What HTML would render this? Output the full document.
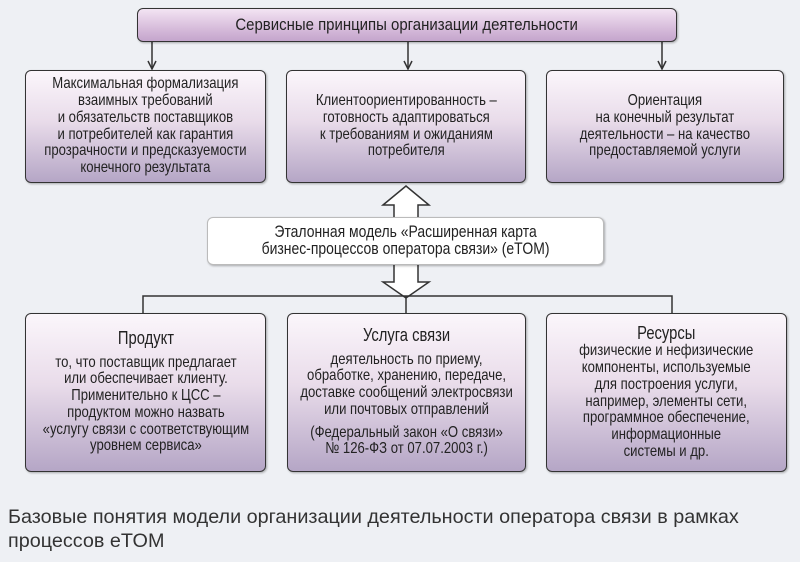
<!DOCTYPE html>
<html><head><meta charset="utf-8"><style>
body{margin:0;width:800px;height:562px;background:#eef0f4;position:relative;overflow:hidden;font-family:"Liberation Sans",sans-serif;color:#222}
.b{position:absolute;box-sizing:border-box;border:1.5px solid #333;border-radius:6px;background:linear-gradient(to bottom,#fbf6fb 0%,#e9dcea 45%,#b5a6c6 100%);text-align:center;font-size:16px;line-height:16.7px;display:flex;flex-direction:column;justify-content:center;align-items:center;box-shadow:1px 1px 2px rgba(0,0,0,.3)}
.b>div{transform:scaleX(.82);white-space:nowrap}
.top{background:linear-gradient(to bottom,#f3e4f3,#d7bcdb 60%,#c4a5cc);font-size:17px}
.top>div{transform:scaleX(.88)}
.t{font-size:18px;margin-bottom:8px}
.cap{position:absolute;left:8px;top:505px;font-family:"Liberation Sans",sans-serif;font-size:19.8px;line-height:24px;color:#333}
</style></head><body>
<svg width="800" height="562" style="position:absolute;left:0;top:0">
<g stroke="#333" stroke-width="1.5" fill="none">
<line x1="152" y1="42" x2="152" y2="69"/><line x1="408" y1="42" x2="408" y2="69"/><line x1="662" y1="42" x2="662" y2="69"/>
<polyline points="148,61 152,69 156,61"/><polyline points="404,61 408,69 412,61"/><polyline points="658,61 662,69 666,61"/>
<path d="M394,217 L394,205 L383,205 L406,186 L429,205 L418,205 L418,217" fill="#fff"/>
<path d="M394,265 L394,282 L383,282 L406,298 L429,282 L418,282 L418,265" fill="#fff"/>
<polyline points="143,313 143,296 672,296 672,313"/>
<line x1="406" y1="296" x2="406" y2="313"/>
</g></svg>
<div class="b top" style="left:137px;top:8px;width:540px;height:34px"><div>Сервисные принципы организации деятельности</div></div>
<div class="b" style="left:25px;top:70px;width:241px;height:113px"><div>Максимальная формализация<br>взаимных требований<br>и обязательств поставщиков<br>и потребителей как гарантия<br>прозрачности и предсказуемости<br>конечного результата</div></div>
<div class="b" style="left:286px;top:70px;width:240px;height:113px"><div>Клиентоориентированность –<br>готовность адаптироваться<br>к требованиям и ожиданиям<br>потребителя</div></div>
<div class="b" style="left:546px;top:70px;width:238px;height:113px"><div>Ориентация<br>на конечный результат<br>деятельности – на качество<br>предоставляемой услуги</div></div>
<div class="b" style="left:207px;top:217px;width:397px;height:48px;background:#fff;border:1px solid #bbb;font-size:17px"><div>Эталонная модель «Расширенная карта<br>бизнес-процессов оператора связи» (eTOM)</div></div>
<div class="b" style="left:25px;top:313px;width:241px;height:159px"><div><div class="t">Продукт</div>то, что поставщик предлагает<br>или обеспечивает клиенту.<br>Применительно к ЦСС –<br>продуктом можно назвать<br>«услугу связи с соответствующим<br>уровнем сервиса»</div></div>
<div class="b" style="left:287px;top:313px;width:239px;height:159px"><div><div class="t">Услуга связи</div>деятельность по приему,<br>обработке, хранению, передаче,<br>доставке сообщений электросвязи<br>или почтовых отправлений<div style="height:6px"></div>(Федеральный закон «О связи»<br>№ 126-ФЗ от 07.07.2003 г.)</div></div>
<div class="b" style="left:546px;top:313px;width:241px;height:159px"><div><div class="t" style="margin-bottom:2px">Ресурсы</div>физические и нефизические<br>компоненты, используемые<br>для построения услуги,<br>например, элементы сети,<br>программное обеспечение,<br>информационные<br>системы и др.</div></div>
<div class="cap">Базовые понятия модели организации деятельности оператора связи в рамках<br>процессов eTOM</div>
</body></html>
